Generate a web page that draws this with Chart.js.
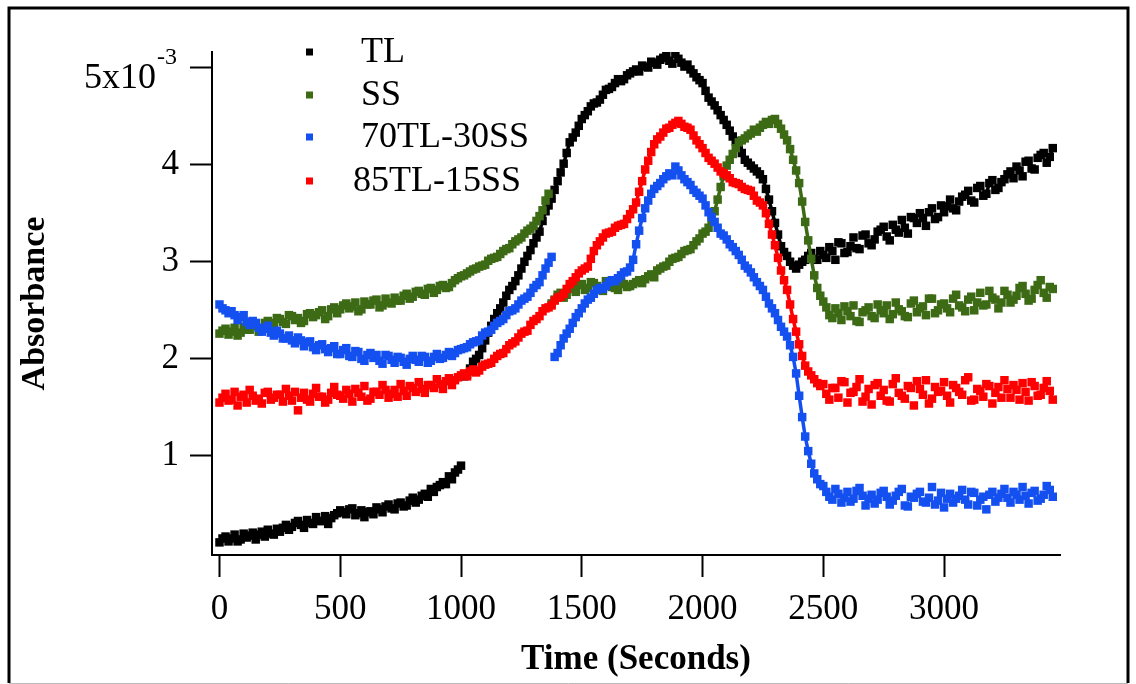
<!DOCTYPE html>
<html>
<head>
<meta charset="utf-8">
<script src="https://cdn.jsdelivr.net/npm/chart.js@4.4.1/dist/chart.umd.min.js"></script>
<style>
  html, body { margin: 0; padding: 0; background: #fff; }
  #wrap { width: 1136px; height: 684px; position: relative; }
</style>
</head>
<body>
<div id="wrap"><canvas id="absChart"></canvas></div>
<script>

let timeSec = [
    0, 25, 50, 75, 100, 125, 150, 175, 200, 225,
    250, 275, 300, 325, 350, 375, 400, 425, 450, 475,
    500, 525, 550, 575, 600, 625, 650, 675, 700, 725,
    750, 775, 800, 825, 850, 875, 900, 925, 950, 975,
    1000, 1025, 1050, 1075, 1100, 1125, 1150, 1175, 1200, 1225,
    1250, 1275, 1300, 1325, 1350, 1375, 1400, 1425, 1450, 1475,
    1500, 1525, 1550, 1575, 1600, 1625, 1650, 1675, 1700, 1725,
    1750, 1775, 1800, 1825, 1850, 1875, 1900, 1925, 1950, 1975,
    2000, 2025, 2050, 2075, 2100, 2125, 2150, 2175, 2200, 2225,
    2250, 2275, 2300, 2325, 2350, 2375, 2400, 2425, 2450, 2475,
    2500, 2525, 2550, 2575, 2600, 2625, 2650, 2675, 2700, 2725,
    2750, 2775, 2800, 2825, 2850, 2875, 2900, 2925, 2950, 2975,
    3000, 3025, 3050, 3075, 3100, 3125, 3150, 3175, 3200, 3225,
    3250, 3275, 3300, 3325, 3350, 3375, 3400, 3425, 3450
];

let timeSecMid = [
    12.5, 37.5, 62.5, 87.5, 112.5, 137.5, 162.5, 187.5, 212.5, 237.5,
    262.5, 287.5, 312.5, 337.5, 362.5, 387.5, 412.5, 437.5, 462.5, 487.5,
    512.5, 537.5, 562.5, 587.5, 612.5, 637.5, 662.5, 687.5, 712.5, 737.5,
    762.5, 787.5, 812.5, 837.5, 862.5, 887.5, 912.5, 937.5, 962.5, 987.5,
    1012.5, 1037.5, 1062.5, 1087.5, 1112.5, 1137.5, 1162.5, 1187.5, 1212.5, 1237.5,
    1262.5, 1287.5, 1312.5, 1337.5, 1362.5, 1387.5, 1412.5, 1437.5, 1462.5, 1487.5,
    1512.5, 1537.5, 1562.5, 1587.5, 1612.5, 1637.5, 1662.5, 1687.5, 1712.5, 1737.5,
    1762.5, 1787.5, 1812.5, 1837.5, 1862.5, 1887.5, 1912.5, 1937.5, 1962.5, 1987.5,
    2012.5, 2037.5, 2062.5, 2087.5, 2112.5, 2137.5, 2162.5, 2187.5, 2212.5, 2237.5,
    2262.5, 2287.5, 2312.5, 2337.5, 2362.5, 2387.5, 2412.5, 2437.5, 2462.5, 2487.5,
    2512.5, 2537.5, 2562.5, 2587.5, 2612.5, 2637.5, 2662.5, 2687.5, 2712.5, 2737.5,
    2762.5, 2787.5, 2812.5, 2837.5, 2862.5, 2887.5, 2912.5, 2937.5, 2962.5, 2987.5,
    3012.5, 3037.5, 3062.5, 3087.5, 3112.5, 3137.5, 3162.5, 3187.5, 3212.5, 3237.5,
    3262.5, 3287.5, 3312.5, 3337.5, 3362.5, 3387.5, 3412.5, 3437.5
];

// values in units of 1e-3
let tlAbs = [
    0.11, 0.17, 0.15, 0.12, 0.20, 0.18, 0.14, 0.22, 0.24, 0.19,
    0.22, 0.29, 0.27, 0.33, 0.26, 0.31, 0.37, 0.33, 0.30, 0.39,
    0.44, 0.40, 0.46, 0.41, 0.37, 0.43, 0.47, 0.42, 0.50, 0.45,
    0.52, 0.49, 0.57, 0.55, 0.61, 0.66, 0.68, 0.73, 0.79, 0.83,
    0.90, 1.84, 1.97, 2.04, 2.19, 2.34, 2.47, 2.58, 2.71, 2.80,
    2.93, 3.06, 3.19, 3.31, 3.52, 3.65, 3.83, 4.01, 4.23, 4.33,
    4.47, 4.55, 4.63, 4.67, 4.77, 4.80, 4.88, 4.88, 4.94, 4.98,
    5.02, 5.00, 5.05, 5.08, 5.12, 5.04, 5.09, 5.01, 4.98, 4.90,
    4.84, 4.69, 4.61, 4.51, 4.41, 4.29, 4.19, 4.05, 3.99, 3.93,
    3.85, 3.64, 3.40, 3.16, 3.06, 2.96, 2.97, 3.02, 3.09, 3.02,
    3.07, 3.15, 3.02, 3.19, 3.10, 3.25, 3.13, 3.28, 3.17, 3.31,
    3.36, 3.22, 3.33, 3.43, 3.29, 3.45, 3.50, 3.37, 3.55, 3.46,
    3.51, 3.64, 3.53, 3.67, 3.73, 3.61, 3.78, 3.70, 3.84, 3.76,
    3.85, 3.93, 3.98, 3.88, 4.04, 3.95, 4.10, 4.02, 4.17
];
let tlAbsMid = [
    0.15, 0.12, 0.19, 0.14, 0.16, 0.21, 0.19, 0.17, 0.20, 0.25,
    0.26, 0.24, 0.31, 0.29, 0.34, 0.30, 0.33, 0.38, 0.36, 0.41,
    0.42, 0.45, 0.39, 0.44, 0.42, 0.40, 0.45, 0.48, 0.46, 0.51,
    0.48, 0.54, 0.52, 0.59, 0.58, 0.63, 0.70, 0.71, 0.76, 0.86,
    1.82, 1.90, 2.00, 2.11, 2.27, 2.41, 2.52, 2.65, 2.75, 2.86,
    3.00, 3.12, 3.25, 3.42, 3.58, 3.74, 3.92, 4.12, 4.28, 4.40,
    4.51, 4.60, 4.64, 4.72, 4.78, 4.84, 4.86, 4.92, 4.96, 4.96,
    5.01, 5.06, 5.03, 5.10, 5.07, 5.14, 5.05, 5.03, 4.94, 4.87,
    4.76, 4.65, 4.56, 4.46, 4.35, 4.24, 4.12, 4.02, 3.96, 3.90,
    3.75, 3.52, 3.28, 3.10, 3.00, 2.93, 3.00, 3.06, 3.03, 3.11,
    3.04, 3.11, 3.20, 3.09, 3.16, 3.14, 3.27, 3.19, 3.23, 3.33,
    3.26, 3.38, 3.30, 3.35, 3.46, 3.40, 3.45, 3.51, 3.44, 3.58,
    3.57, 3.55, 3.62, 3.69, 3.63, 3.76, 3.68, 3.81, 3.74, 3.82,
    3.90, 3.86, 3.94, 4.03, 3.96, 4.07, 4.12, 4.08
];

let ssAbs = [
    2.26, 2.31, 2.28, 2.24, 2.33, 2.30, 2.36, 2.31, 2.39, 2.37,
    2.41, 2.36, 2.44, 2.42, 2.39, 2.47, 2.45, 2.50, 2.44, 2.53,
    2.51, 2.57, 2.54, 2.49, 2.59, 2.56, 2.61, 2.55, 2.58, 2.63,
    2.60, 2.67, 2.64, 2.70, 2.66, 2.73, 2.71, 2.76, 2.74, 2.81,
    2.85, 2.88, 2.92, 2.95, 2.97, 3.03, 3.05, 3.11, 3.14, 3.21,
    3.25, 3.32, 3.37, 3.47, 3.63, 2.57, 2.66, 2.63, 2.72, 2.69,
    2.77, 2.73, 2.78, 2.72, 2.80, 2.74, 2.71, 2.77, 2.75, 2.79,
    2.78, 2.85, 2.84, 2.93, 2.96, 3.03, 3.05, 3.11, 3.13, 3.21,
    3.29, 3.35, 3.52, 3.77, 3.99, 4.11, 4.23, 4.27, 4.32, 4.34,
    4.41, 4.42, 4.47, 4.37, 4.25, 4.05, 3.81, 3.41, 3.03, 2.73,
    2.59, 2.45, 2.52, 2.40, 2.49, 2.55, 2.38, 2.50, 2.44, 2.56,
    2.47, 2.41, 2.58, 2.49, 2.43, 2.60, 2.52, 2.45, 2.62, 2.50,
    2.57, 2.48, 2.66, 2.53, 2.61, 2.50, 2.68, 2.56, 2.63, 2.52,
    2.70, 2.58, 2.65, 2.75, 2.60, 2.71, 2.81, 2.63, 2.72
];
let ssAbsMid = [
    2.29, 2.25, 2.32, 2.27, 2.30, 2.34, 2.28, 2.37, 2.34, 2.42,
    2.38, 2.45, 2.40, 2.37, 2.46, 2.43, 2.48, 2.41, 2.51, 2.47,
    2.55, 2.52, 2.58, 2.51, 2.56, 2.60, 2.53, 2.62, 2.57, 2.60,
    2.65, 2.62, 2.69, 2.67, 2.72, 2.68, 2.75, 2.73, 2.78, 2.83,
    2.86, 2.90, 2.93, 2.96, 3.01, 3.04, 3.08, 3.13, 3.18, 3.23,
    3.29, 3.34, 3.42, 3.53, 3.70, 2.61, 2.68, 2.66, 2.74, 2.76,
    2.71, 2.79, 2.75, 2.70, 2.77, 2.73, 2.79, 2.74, 2.77, 2.81,
    2.82, 2.87, 2.91, 2.95, 3.00, 3.04, 3.08, 3.12, 3.17, 3.24,
    3.31, 3.43, 3.64, 3.88, 4.05, 4.17, 4.25, 4.30, 4.36, 4.38,
    4.44, 4.46, 4.42, 4.31, 4.16, 3.94, 3.62, 3.22, 2.86, 2.65,
    2.53, 2.42, 2.47, 2.54, 2.44, 2.39, 2.48, 2.53, 2.42, 2.50,
    2.55, 2.46, 2.51, 2.44, 2.57, 2.48, 2.54, 2.62, 2.47, 2.56,
    2.52, 2.62, 2.55, 2.49, 2.64, 2.58, 2.55, 2.70, 2.61, 2.58,
    2.66, 2.61, 2.73, 2.67, 2.62, 2.76, 2.68, 2.74
];

let mix70Abs = [
    2.56, 2.50, 2.49, 2.40, 2.45, 2.35, 2.37, 2.28, 2.34, 2.24,
    2.26, 2.21, 2.19, 2.22, 2.13, 2.18, 2.09, 2.15, 2.07, 2.13,
    2.05, 2.11, 2.02, 2.07, 1.98, 2.06, 2.04, 1.95, 2.03, 1.96,
    2.01, 1.94, 2.03, 1.97, 2.02, 1.98, 2.05, 2.01, 2.07, 2.06,
    2.10, 2.12, 2.17, 2.19, 2.27, 2.30, 2.37, 2.41, 2.49, 2.52,
    2.60, 2.64, 2.73, 2.79, 2.93, 3.05, 2.06, 2.21, 2.31, 2.43,
    2.52, 2.61, 2.67, 2.73, 2.75, 2.81, 2.83, 2.89, 2.94, 3.18,
    3.45, 3.63, 3.75, 3.81, 3.88, 3.89, 3.94, 3.85, 3.79, 3.71,
    3.65, 3.51, 3.41, 3.29, 3.23, 3.15, 3.07, 2.96, 2.89, 2.79,
    2.71, 2.57, 2.47, 2.33, 2.23, 2.02, 1.62, 1.20, 0.92, 0.76,
    0.69, 0.58, 0.66, 0.52, 0.63, 0.56, 0.67, 0.49, 0.60, 0.55,
    0.64, 0.50, 0.59, 0.66, 0.48, 0.57, 0.63, 0.52, 0.68, 0.54,
    0.47, 0.61, 0.56, 0.65, 0.50, 0.62, 0.55, 0.45, 0.63, 0.57,
    0.66, 0.52, 0.60, 0.68, 0.51, 0.64, 0.56, 0.69, 0.58
];
let mix70AbsMid = [
    2.52, 2.47, 2.45, 2.43, 2.38, 2.39, 2.32, 2.31, 2.27, 2.29,
    2.21, 2.24, 2.16, 2.19, 2.17, 2.12, 2.14, 2.10, 2.11, 2.05,
    2.09, 2.03, 2.08, 2.00, 2.04, 2.01, 1.98, 2.04, 1.99, 2.02,
    1.97, 2.00, 1.99, 2.03, 1.96, 2.02, 2.00, 2.04, 2.03, 2.09,
    2.11, 2.15, 2.18, 2.24, 2.28, 2.34, 2.39, 2.45, 2.50, 2.56,
    2.62, 2.68, 2.76, 2.86, 2.99, 2.02, 2.14, 2.26, 2.37, 2.47,
    2.57, 2.63, 2.71, 2.72, 2.79, 2.80, 2.86, 2.90, 3.02, 3.32,
    3.55, 3.70, 3.78, 3.85, 3.91, 3.98, 3.89, 3.82, 3.74, 3.68,
    3.58, 3.46, 3.35, 3.27, 3.18, 3.11, 3.02, 2.93, 2.84, 2.75,
    2.64, 2.52, 2.40, 2.28, 2.14, 1.85, 1.40, 1.05, 0.82, 0.71,
    0.63, 0.55, 0.61, 0.57, 0.53, 0.64, 0.59, 0.56, 0.51, 0.62,
    0.58, 0.54, 0.63, 0.49, 0.58, 0.61, 0.53, 0.57, 0.50, 0.62,
    0.56, 0.52, 0.59, 0.55, 0.63, 0.49, 0.58, 0.60, 0.53, 0.61,
    0.57, 0.63, 0.55, 0.59, 0.62, 0.54, 0.60, 0.65
];

let mix85Abs = [
    1.55, 1.64, 1.58, 1.52, 1.63, 1.68, 1.57, 1.54, 1.66, 1.60,
    1.63, 1.69, 1.57, 1.47, 1.65, 1.56, 1.70, 1.61, 1.58, 1.71,
    1.62, 1.68, 1.56, 1.65, 1.72, 1.59, 1.66, 1.73, 1.60, 1.68,
    1.74, 1.62, 1.70, 1.76, 1.65, 1.73, 1.79, 1.69, 1.80, 1.78,
    1.83, 1.82, 1.89, 1.88, 1.94, 1.96, 2.03, 2.06, 2.14, 2.18,
    2.26, 2.29, 2.39, 2.44, 2.52, 2.55, 2.63, 2.67, 2.77, 2.84,
    2.91, 2.95, 3.11, 3.21, 3.29, 3.31, 3.37, 3.39, 3.49, 3.61,
    3.83, 4.04, 4.21, 4.29, 4.37, 4.41, 4.45, 4.39, 4.36, 4.25,
    4.17, 4.07, 4.01, 3.93, 3.89, 3.82, 3.80, 3.75, 3.73, 3.63,
    3.58, 3.39, 3.17, 2.91, 2.71, 2.41, 2.15, 1.93, 1.83, 1.75,
    1.74, 1.58, 1.70, 1.77, 1.55, 1.66, 1.79, 1.61, 1.53, 1.75,
    1.68, 1.56, 1.80, 1.62, 1.72, 1.52, 1.69, 1.78, 1.59, 1.66,
    1.76, 1.55, 1.70, 1.63, 1.81, 1.58, 1.67, 1.74, 1.54, 1.71,
    1.78, 1.60, 1.68, 1.75, 1.57, 1.72, 1.63, 1.77, 1.58
];
let mix85AbsMid = [
    1.60, 1.57, 1.66, 1.61, 1.55, 1.62, 1.59, 1.65, 1.58, 1.63,
    1.56, 1.62, 1.66, 1.60, 1.58, 1.64, 1.61, 1.55, 1.65, 1.63,
    1.59, 1.64, 1.69, 1.61, 1.57, 1.66, 1.63, 1.68, 1.64, 1.61,
    1.67, 1.72, 1.66, 1.69, 1.73, 1.70, 1.74, 1.77, 1.73, 1.81,
    1.85, 1.87, 1.86, 1.92, 1.95, 2.00, 2.05, 2.10, 2.16, 2.22,
    2.28, 2.35, 2.41, 2.49, 2.53, 2.60, 2.64, 2.72, 2.80, 2.88,
    2.93, 3.03, 3.17, 3.25, 3.30, 3.35, 3.38, 3.44, 3.54, 3.72,
    3.95, 4.13, 4.26, 4.33, 4.38, 4.43, 4.42, 4.38, 4.30, 4.21,
    4.12, 4.04, 3.97, 3.91, 3.86, 3.81, 3.77, 3.74, 3.68, 3.61,
    3.50, 3.28, 3.04, 2.81, 2.56, 2.28, 2.03, 1.87, 1.79, 1.72,
    1.64, 1.70, 1.60, 1.76, 1.65, 1.71, 1.56, 1.69, 1.73, 1.62,
    1.57, 1.74, 1.65, 1.59, 1.70, 1.77, 1.63, 1.54, 1.71, 1.67,
    1.62, 1.73, 1.66, 1.78, 1.57, 1.69, 1.61, 1.72, 1.65, 1.60,
    1.69, 1.73, 1.58, 1.66, 1.76, 1.62, 1.70, 1.67
];

let seriesNames = ["TL", "SS", "70TL-30SS", "85TL-15SS"];
let seriesColors = ["#000000", "#3d6b15", "#1450f0", "#ff0000"];
let xTickVals = [0, 500, 1000, 1500, 2000, 2500, 3000];
let yTickVals = [1, 2, 3, 4, 5];

const serif = "'Liberation Serif', 'Times New Roman', serif";

function toPoints(arr, arrMid) {
    const pts = timeSec.map((t, i) => ({ x: t, y: arr[i] }))
        .concat(timeSecMid.map((t, i) => ({ x: t, y: arrMid[i] })));
    pts.sort((a, b) => a.x - b.x);
    return pts;
}

// fill the gaps between squares only on steady steep runs (not on noise,
// not across the jumps in the record)
function steepRun(ys, i0, i1) {
    const d = ys[i1] - ys[i0];
    if (Math.abs(d) > 0.7 || Math.abs(d) < 0.06) return false;
    const before = i0 > 0 ? ys[i0] - ys[i0 - 1] : d;
    const after = i1 < ys.length - 1 ? ys[i1 + 1] - ys[i1] : d;
    return before * d > 0 && after * d > 0;
}

function makeSet(idx, arr, arrMid) {
    const pts = toPoints(arr, arrMid);
    const ys = pts.map(p => p.y);
    return {
        label: seriesNames[idx],
        data: pts,
        showLine: true,
        borderColor: seriesColors[idx],
        backgroundColor: seriesColors[idx],
        borderWidth: 3.5,
        tension: 0,
        pointStyle: 'rect',
        pointRadius: 6,
        pointBorderWidth: 0,
        order: 4 - idx,
        segment: {
            borderColor: c => steepRun(ys, c.p0DataIndex, c.p1DataIndex) ? undefined : 'transparent'
        }
    };
}

// page frame, custom legend and the 5x10^-3 label
const framePlugin = {
    id: 'frame',
    beforeDraw(chart) {
        const c = chart.ctx;
        c.save();
        c.fillStyle = '#fff';
        c.fillRect(0, 0, chart.width, chart.height);
        c.strokeStyle = '#000';
        c.lineWidth = 3;
        c.beginPath();
        c.moveTo(9, 683);
        c.lineTo(9, 8);
        c.lineTo(1128, 8);
        c.lineTo(1128, 683);
        c.stroke();
        c.strokeStyle = '#bbb';
        c.lineWidth = 1;
        c.beginPath();
        c.moveTo(9, 683.5);
        c.lineTo(1128, 683.5);
        c.stroke();
        c.restore();
    },
    afterDraw(chart) {
        const c = chart.ctx;
        const y5 = chart.scales.y.getPixelForValue(5);
        c.save();
        c.fillStyle = '#000';
        c.textBaseline = 'middle';
        c.font = '36px ' + serif;
        c.textAlign = 'right';
        c.fillText('5x10', 156, y5 + 11);
        c.font = '24px ' + serif;
        c.textAlign = 'left';
        c.fillText('-3', 157, y5 - 10);

        const legY = [52, 95, 137, 181];
        const legX = [361, 361, 361, 353];
        c.font = '36px ' + serif;
        seriesNames.forEach((name, i) => {
            c.fillStyle = seriesColors[i];
            c.fillRect(306, legY[i] - 3.5, 7, 7);
            c.fillStyle = '#000';
            c.fillText(name, legX[i], legY[i] + 1);
        });
        c.restore();
    }
};

const ctx = document.getElementById('absChart').getContext('2d');
const absChart = new Chart(ctx, {
    type: 'scatter',
    data: {
        datasets: [
            makeSet(0, tlAbs, tlAbsMid),
            makeSet(1, ssAbs, ssAbsMid),
            makeSet(2, mix70Abs, mix70AbsMid),
            makeSet(3, mix85Abs, mix85AbsMid)
        ]
    },
    options: {
        responsive: true,
        maintainAspectRatio: false,
        animation: false,
        layout: {
            padding: { top: 52, right: 76, left: 0, bottom: 0 }
        },
        scales: {
            x: {
                type: 'linear',
                min: -31,
                max: 3480,
                afterBuildTicks: s => { s.ticks = xTickVals.map(v => ({ value: v })); },
                afterFit: s => { s.height = 129; },
                grid: {
                    drawOnChartArea: false,
                    drawTicks: true,
                    tickLength: 22,
                    tickWidth: 2,
                    tickColor: '#000'
                },
                border: { display: true, color: '#000', width: 2 },
                ticks: {
                    color: '#000',
                    padding: 12,
                    maxRotation: 0,
                    font: { family: serif, size: 35 },
                    callback: v => String(v)
                },
                title: {
                    display: true,
                    text: 'Time (Seconds)',
                    color: '#000',
                    padding: { top: 0, bottom: 3 },
                    font: { family: serif, size: 35, weight: 'bold' }
                }
            },
            y: {
                type: 'linear',
                min: -0.02,
                max: 5.16,
                afterBuildTicks: s => { s.ticks = yTickVals.map(v => ({ value: v })); },
                afterFit: s => { s.width = 212; },
                grid: {
                    drawOnChartArea: false,
                    drawTicks: true,
                    tickLength: 22,
                    tickWidth: 2,
                    tickColor: '#000'
                },
                border: { display: true, color: '#000', width: 2 },
                ticks: {
                    color: '#000',
                    padding: 11,
                    font: { family: serif, size: 35 },
                    callback: v => v === 5 ? '' : String(v)
                },
                title: {
                    display: true,
                    text: 'Absorbance',
                    color: '#000',
                    padding: { top: 15, bottom: 0 },
                    font: { family: serif, size: 34, weight: 'bold' }
                }
            }
        },
        plugins: {
            legend: { display: false },
            tooltip: { enabled: false }
        }
    },
    plugins: [framePlugin]
});
</script>
</body>
</html>
